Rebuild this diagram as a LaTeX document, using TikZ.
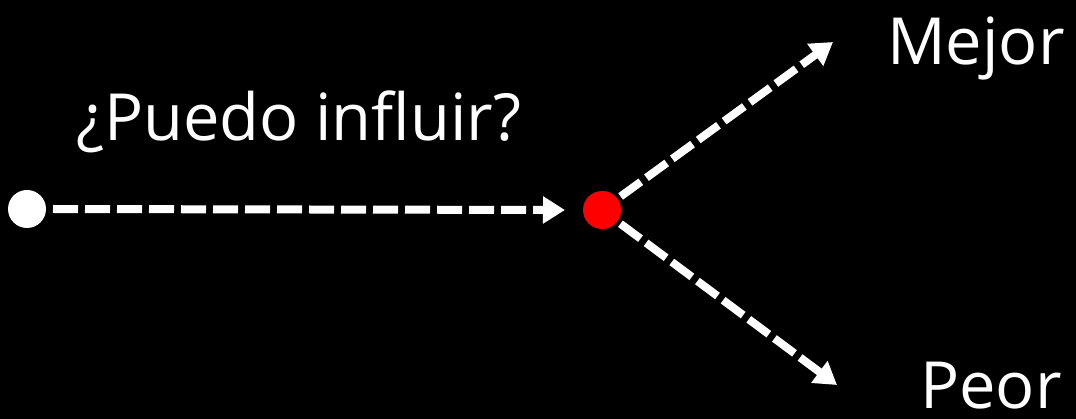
\documentclass[tikz,border=0pt]{standalone}
\usepackage{fontspec}
\setmainfont{Open Sans}
\usetikzlibrary{arrows.meta}
\begin{document}
\begin{tikzpicture}[x=1pt,y=-1pt,
  dot/.style={circle,inner sep=0pt,minimum size=38pt},
  lbl/.style={text=white,font=\fontsize{65}{78}\selectfont,inner sep=0pt},
  flow/.style={draw=white,line width=8pt,dash pattern=on 25pt off 7pt,
    -{Triangle[length=22pt,width=26pt]}}]
\fill[black] (0,0) rectangle (1076,419);
\useasboundingbox (0,0) rectangle (1076,419);
\node[dot,fill=white,outer sep=7pt] (start) at (27,209) {};
\node[dot,fill=red,outer sep=4pt] (mid) at (602,210) {};
\coordinate (midin) at (565,210);
\coordinate (up) at (833,42);
\coordinate (down) at (837,385);
\node[lbl,anchor=base west] (q) at (76,141) {¿Puedo influir?};
\node[lbl,anchor=base west] (mejor) at (887,65) {Mejor};
\node[lbl,anchor=base west,text depth=0pt] (peor) at (920,408) {Peor};
\draw[flow] (start.east) -- (midin);
\draw[flow] (mid) -- (up);
\draw[flow] (mid) -- (down);
\end{tikzpicture}
\end{document}
